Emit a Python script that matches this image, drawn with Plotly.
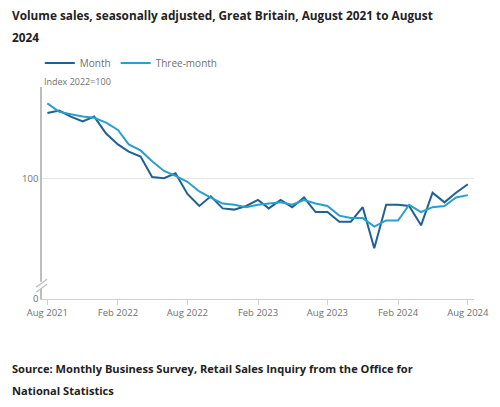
import plotly.graph_objects as go
import pandas as pd

months = pd.date_range("2021-08-01", "2024-08-01", freq="MS").strftime("%Y-%m-%d").tolist()

month_values = [105.4, 105.6, 105.1, 104.7, 105.1, 103.7, 102.8, 102.2, 101.8, 100.1,
                100.0, 100.4, 98.7, 97.7, 98.5, 97.5, 97.4, 97.7, 98.2, 97.5,
                98.2, 97.6, 98.4, 97.2, 97.2, 96.4, 96.4, 97.6, 94.2, 97.8,
                97.8, 97.7, 96.1, 98.8, 98.0, 98.8, 99.5]

three_month_values = [106.2, 105.5, 105.3, 105.1, 105.0, 104.6, 104.0, 102.8, 102.3, 101.4,
                      100.6, 100.2, 99.7, 98.9, 98.4, 97.9, 97.8, 97.6, 97.8, 97.9,
                      98.0, 97.8, 98.2, 97.9, 97.7, 96.9, 96.7, 96.7, 96.0, 96.5,
                      96.5, 97.8, 97.2, 97.6, 97.7, 98.4, 98.6]

x_tick_vals = ["2021-08-01", "2022-02-01", "2022-08-01", "2023-02-01",
               "2023-08-01", "2024-02-01", "2024-08-01"]
x_tick_text = ["Aug 2021", "Feb 2022", "Aug 2022", "Feb 2023",
               "Aug 2023", "Feb 2024", "Aug 2024"]
y_tick_vals = [90, 100]
y_tick_text = ["0", "100"]

FONT = "Open Sans"
GREY = "#707070"
PW, PH, PB = 432, 212.3, 299.3

def py(pix):
    return (PB - pix) / PH

fig = go.Figure()
fig.add_trace(go.Scatter(x=months, y=month_values, name="Month", mode="lines",
                         line=dict(color="#206095", width=2)))
fig.add_trace(go.Scatter(x=months, y=three_month_values, name="Three-month", mode="lines",
                         line=dict(color="#27a0cc", width=2)))

fig.update_layout(
    width=500, height=407,
    margin=dict(l=42, r=26, t=87, b=107.7, autoexpand=False),
    paper_bgcolor="white", plot_bgcolor="white",
    font=dict(family=FONT, color=GREY, size=10),
    showlegend=True,
    legend=dict(orientation="h", x=-0.005, xanchor="left", y=py(63), yanchor="middle",
                font=dict(family=FONT, size=10, color=GREY),
                itemwidth=30, traceorder="normal", bgcolor="rgba(0,0,0,0)"),
    xaxis=dict(type="date", range=["2021-07-18", "2024-08-17"], automargin=False,
               tickvals=x_tick_vals, ticktext=x_tick_text,
               showgrid=False, showline=True, linecolor="#d0d0d0", linewidth=1,
               ticks="outside", ticklen=5, tickcolor="#d0d0d0",
               tickfont=dict(family=FONT, size=9.5, color=GREY), zeroline=False),
    yaxis=dict(range=[90, 107.55], tickvals=y_tick_vals, ticktext=y_tick_text, automargin=False,
               showgrid=True, gridcolor="#e6e6e6", gridwidth=1,
               showline=True, linecolor="#bdbdbd", linewidth=1.5,
               ticks="", tickfont=dict(family=FONT, size=9.5, color=GREY),
               zeroline=False, fixedrange=True),
)

# axis break symbol
fig.add_shape(type="rect", xref="paper", yref="paper", x0=-0.012, x1=0.012,
              y0=py(289), y1=py(282),
              fillcolor="white", line=dict(width=0), layer="above")
for yb in (283.5, 288.5):
    fig.add_shape(type="line", xref="paper", yref="paper",
                  x0=-6 / PW, x1=5 / PW,
                  y0=py(yb + 4), y1=py(yb - 4),
                  line=dict(color="#bdbdbd", width=1.2), layer="above")

fig.add_annotation(text="Index 2022=100", xref="paper", yref="paper",
                   x=0, y=py(81), xanchor="left", yanchor="middle",
                   showarrow=False, font=dict(family=FONT, size=9, color=GREY))

title_lines = ["Volume sales, seasonally adjusted, Great Britain, August 2021 to August", "2024"]
for i, t in enumerate(title_lines):
    fig.add_annotation(text="<b>%s</b>" % t, xref="paper", yref="paper",
                       x=-32 / PW, y=py(15 + 22 * i),
                       xanchor="left", yanchor="middle", showarrow=False,
                       font=dict(family=FONT, size=11.8, color="#222222"))

source_lines = ["Source: Monthly Business Survey, Retail Sales Inquiry from the Office for",
                "National Statistics"]
for i, t in enumerate(source_lines):
    fig.add_annotation(text="<b>%s</b>" % t, xref="paper", yref="paper",
                       x=-32 / PW, y=py(369 + 22 * i),
                       xanchor="left", yanchor="middle", showarrow=False,
                       font=dict(family=FONT, size=11.1, color="#222222"))

fig.write_html("out.html", config={"displayModeBar": False},
               post_script="document.body.style.margin='0';")
